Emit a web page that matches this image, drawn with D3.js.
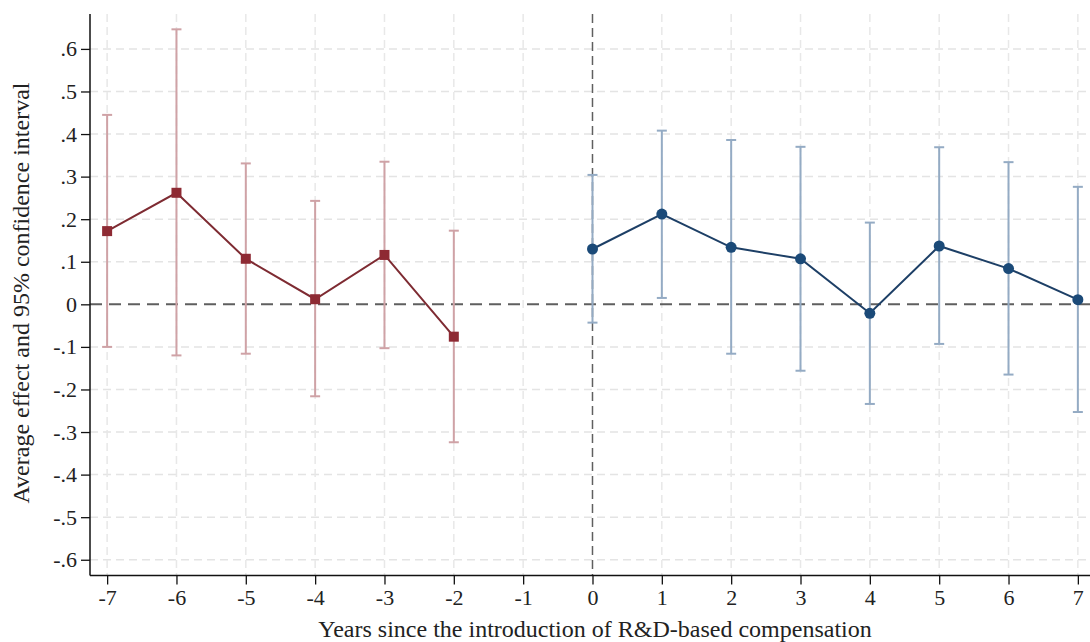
<!DOCTYPE html>
<html>
<head>
<meta charset="utf-8">
<script src="https://cdn.jsdelivr.net/npm/d3@7"></script>
<style>
  body { margin: 0; background: #fff; }
  svg { display: block; }
</style>
</head>
<body>
<div id="chart"></div>
<script>
// Event-study plot: effect of R&D-based compensation, pre vs post periods

const preYears  = [-7, -6, -5, -4, -3, -2];
const preEst    = [0.172, 0.262, 0.107, 0.012, 0.116, -0.076];
const preLo     = [-0.100, -0.120, -0.116, -0.216, -0.103, -0.324];
const preHi     = [0.445, 0.646, 0.331, 0.243, 0.335, 0.173];

const postYears = [0, 1, 2, 3, 4, 5, 6, 7];
const postEst   = [0.130, 0.212, 0.134, 0.107, -0.021, 0.137, 0.084, 0.011];
const postLo    = [-0.043, 0.015, -0.116, -0.156, -0.234, -0.093, -0.165, -0.253];
const postHi    = [0.304, 0.408, 0.386, 0.370, 0.192, 0.369, 0.334, 0.276];

const xTicks = d3.range(-7, 8);
const yTicks = [-0.6, -0.5, -0.4, -0.3, -0.2, -0.1, 0, 0.1, 0.2, 0.3, 0.4, 0.5, 0.6];

const W = 1090, H = 642;
const FONT = '"Liberation Serif", "Times New Roman", serif';

const x = d3.scaleLinear().domain([-7.247, 7.204]).range([90, 1092]);
const y = d3.scaleLinear().domain([-0.637, 0.682]).range([575.5, 14]);

const svg = d3.select('#chart').append('svg')
    .attr('width', W).attr('height', H);

// Grid
svg.append('g').selectAll('line').data(yTicks.filter(d => d !== 0)).enter().append('line')
    .attr('x1', x.range()[0]).attr('x2', x.range()[1])
    .attr('y1', d => y(d)).attr('y2', d => y(d))
    .attr('stroke', '#e4e4e4').attr('stroke-width', 1.5)
    .attr('stroke-dasharray', '8,5');

svg.append('g').selectAll('line').data(xTicks.filter(d => d !== 0)).enter().append('line')
    .attr('x1', d => x(d)).attr('x2', d => x(d))
    .attr('y1', y.range()[1]).attr('y2', y.range()[0])
    .attr('stroke', '#e8e8e8').attr('stroke-width', 1.5)
    .attr('stroke-dasharray', '8,5');

// Reference lines
svg.append('line')
    .attr('x1', x.range()[0]).attr('x2', x.range()[1])
    .attr('y1', y(0)).attr('y2', y(0))
    .attr('stroke', '#5f5f5f').attr('stroke-width', 2)
    .attr('stroke-dasharray', '12,7');

svg.append('line')
    .attr('x1', x(0)).attr('x2', x(0))
    .attr('y1', y.range()[1]).attr('y2', y.range()[0])
    .attr('stroke', '#5f5f5f').attr('stroke-width', 1.5)
    .attr('stroke-dasharray', '9,5');

function drawSeries(years, est, lo, hi, ciColor, lineColor, markColor, shape) {
    const rows = years.map((yr, i) => ({ yr, est: est[i], lo: lo[i], hi: hi[i] }));
    const g = svg.append('g');
    const cap = 5;

    g.selectAll('.ci').data(rows).enter().append('line')
        .attr('x1', d => x(d.yr)).attr('x2', d => x(d.yr))
        .attr('y1', d => y(d.lo)).attr('y2', d => y(d.hi))
        .attr('stroke', ciColor).attr('stroke-width', 2);

    ['lo', 'hi'].forEach(k => {
        g.selectAll('.cap-' + k).data(rows).enter().append('line')
            .attr('x1', d => x(d.yr) - cap).attr('x2', d => x(d.yr) + cap)
            .attr('y1', d => y(d[k])).attr('y2', d => y(d[k]))
            .attr('stroke', ciColor).attr('stroke-width', 2);
    });

    g.append('path').datum(rows)
        .attr('fill', 'none').attr('stroke', lineColor).attr('stroke-width', 2)
        .attr('d', d3.line().x(d => x(d.yr)).y(d => y(d.est)));

    if (shape === 'square') {
        g.selectAll('.mk').data(rows).enter().append('rect')
            .attr('x', d => x(d.yr) - 5).attr('y', d => y(d.est) - 5)
            .attr('width', 10).attr('height', 10)
            .attr('fill', markColor);
    } else {
        g.selectAll('.mk').data(rows).enter().append('circle')
            .attr('cx', d => x(d.yr)).attr('cy', d => y(d.est)).attr('r', 5.5)
            .attr('fill', markColor);
    }
}

drawSeries(preYears, preEst, preLo, preHi, '#cfa2a6', '#7e2b32', '#8e2a33', 'square');
drawSeries(postYears, postEst, postLo, postHi, '#94abc4', '#1d3f66', '#1b4a78', 'circle');

// Axes
const fmtY = d => d === 0 ? '0' : (d < 0 ? '-' : '') + '.' + Math.round(Math.abs(d) * 10);

const yAxis = svg.append('g')
    .attr('transform', `translate(${x.range()[0]},0)`)
    .call(d3.axisLeft(y).tickValues(yTicks).tickSize(9).tickPadding(4).tickFormat(fmtY));
yAxis.select('.domain').attr('stroke', '#111').attr('stroke-width', 1.5)
    .attr('d', `M0,${y.range()[1]}V${y.range()[0]}`);
yAxis.selectAll('.tick line').attr('stroke', '#111').attr('stroke-width', 1.3);
yAxis.selectAll('text').attr('font-family', FONT).attr('font-size', '22px').attr('fill', '#222');

const xAxis = svg.append('g')
    .attr('transform', `translate(0,${y.range()[0]})`)
    .call(d3.axisBottom(x).tickValues(xTicks).tickSize(9).tickPadding(5)
        .tickFormat(d => (d < 0 ? '-' : '') + Math.abs(d)));
xAxis.select('.domain').attr('stroke', '#111').attr('stroke-width', 1.5)
    .attr('d', `M${x.range()[0]},0H${x.range()[1]}`);
xAxis.selectAll('.tick line').attr('stroke', '#111').attr('stroke-width', 1.3);
xAxis.selectAll('text').attr('font-family', FONT).attr('font-size', '22px').attr('fill', '#222');

// Axis titles
svg.append('text')
    .attr('x', 595).attr('y', 637)
    .attr('text-anchor', 'middle')
    .attr('font-family', FONT).attr('font-size', '24px').attr('fill', '#222')
    .text('Years since the introduction of R&D-based compensation');

svg.append('text')
    .attr('transform', 'translate(29,293) rotate(-90)')
    .attr('text-anchor', 'middle')
    .attr('font-family', FONT).attr('font-size', '24px').attr('fill', '#222')
    .text('Average effect and 95% confidence interval');
</script>
</body>
</html>
